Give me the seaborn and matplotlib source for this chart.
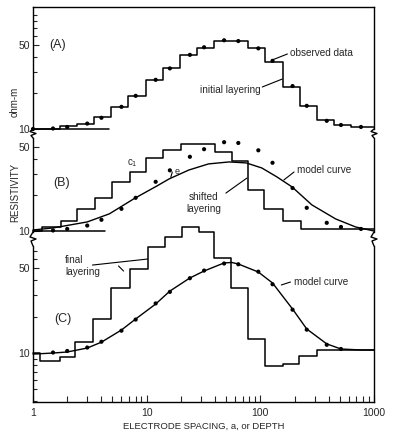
import seaborn as sns
import matplotlib.pyplot as plt
from matplotlib.lines import Line2D
from matplotlib.ticker import LogLocator, NullFormatter, NullLocator

# observed apparent resistivity (ohm-m) against electrode spacing a
spacing = [1, 1.5, 2, 3, 4, 6, 8, 12, 16, 24, 32, 48, 64, 96, 128, 192, 256, 384, 512, 768]
rho_obs = [10, 10.1, 10.4, 11.1, 12.4, 15.3, 18.9, 25.7, 32.0, 41.5, 48.0, 54.9,
           54.1, 47.0, 37.0, 22.8, 15.6, 11.7, 10.8, 10.4]

# (A) initial layering: layer bottoms (depth) and layer resistivity
init_depth = [1.73, 2.45, 3.46, 4.9, 6.9, 9.8, 13.9, 19.6, 27.7, 39.2, 78.4, 111, 157, 222, 314, 443, 627]
init_rho = [10, 10.5, 11.1, 12.5, 15.3, 18.9, 25.8, 32, 41.4, 47.5, 54.5, 47.2, 36.5, 22.6, 15.6, 11.8, 10.9, 10.4]
base_a = [1, 4.7]

# (B) shifted layering and its model curve
shift_depth = [1.2, 1.76, 2.44, 3.51, 4.95, 7.13, 9.86, 13.9, 20.0, 39.9, 56.3, 77.8, 108, 158, 228]
shift_rho = [10, 10.8, 12.1, 15.2, 18.8, 25.6, 31, 40.6, 47.3, 53.1, 45.5, 38.3, 22, 15.2, 12.1, 10.4]
base_b = [1, 4.3]
b_model_a = [1, 1.5, 3, 4.7, 7.9, 12.3, 15.7, 23.5, 35, 53, 75, 103, 140, 190, 284, 460, 690, 1000]
b_model_rho = [10.2, 10.6, 11.9, 13.9, 18.8, 23.7, 27.1, 32.2, 36.2, 37.6, 36.9, 33.5,
               28.2, 23.3, 16.5, 12.6, 10.8, 10]

# (C) final layering and its model curve
final_depth = [1.15, 1.73, 2.35, 3.4, 4.9, 7.07, 10.2, 14.4, 20.4, 28.8, 39.2, 55.4, 78.3, 111, 157, 217, 313]
final_rho = [10, 8.6, 9.3, 12.3, 19.1, 34.4, 49.4, 75.2, 91, 110, 100, 61, 34.4, 13.0, 7.8, 8.1, 9.4, 10.6]
c_model_a = [1, 1.5, 2, 3, 4, 6, 8, 12, 16, 24, 32, 48, 56, 64, 96, 128, 192, 256, 384, 512, 768, 1000]
c_model_rho = [9.8, 10.0, 10.2, 11.0, 12.3, 15.5, 19.1, 25.4, 32.5, 41.7, 47.6, 55.5, 56,
               54.4, 46.7, 37.9, 23.1, 15.8, 11.9, 10.8, 10.6, 10.6]

sns.set_style("white")
plt.rcParams['font.family'] = ['Liberation Sans', 'DejaVu Sans']

W, H = 395, 441
fig = plt.figure(figsize=(W / 100, H / 100), dpi=100)


def px_axes(top, bottom, ylim):
    # axes placed by pixel rows, x from 33 to 374 px
    ax = fig.add_axes([33 / W, 1 - bottom / H, 341 / W, (bottom - top) / H])
    ax.set_xscale('log')
    ax.set_yscale('log')
    ax.set_xlim(1, 1000)
    ax.set_ylim(*ylim)
    ax.patch.set_alpha(0)
    ax.set_yticks([10, 50], labels=['10', '50'])
    ax.yaxis.set_minor_locator(LogLocator(subs=range(2, 10)))
    ax.yaxis.set_minor_formatter(NullFormatter())
    ax.tick_params(axis='y', which='both', direction='in', left=True, right=False,
                   labelsize=7.5, pad=2, width=0.8)
    ax.tick_params(axis='y', which='major', length=4)
    ax.tick_params(axis='y', which='minor', length=3)
    for s in ax.spines.values():
        s.set_color('black')
        s.set_linewidth(1.0)
    return ax


def steps(ax, depth, rho):
    xs = [1] + list(depth) + [1000]
    ys = list(rho) + [rho[-1]]
    sns.lineplot(x=xs, y=ys, ax=ax, drawstyle='steps-post', estimator=None, sort=False,
                 color='black', lw=1.1, clip_on=False)


ax_a = px_axes(7, 129, (10, 104))
ax_b = px_axes(138, 232, (9.81, 59.5))
ax_c = px_axes(246, 402, (3.94, 76.6))

for ax in (ax_a, ax_b):
    ax.xaxis.set_major_locator(NullLocator())
    ax.xaxis.set_minor_locator(NullLocator())
    ax.spines['bottom'].set_visible(False)
ax_b.spines['top'].set_visible(False)
ax_c.spines['top'].set_visible(False)

ax_c.set_xticks([1, 10, 100, 1000], labels=['1', '10', '100', '1000'])
ax_c.xaxis.set_minor_locator(LogLocator(subs=range(2, 10)))
ax_c.xaxis.set_minor_formatter(NullFormatter())
ax_c.tick_params(axis='x', which='both', direction='in', bottom=True, labelsize=7.5, pad=4, width=0.8)
ax_c.tick_params(axis='x', which='major', length=5)
ax_c.tick_params(axis='x', which='minor', length=4)
ax_c.set_xlabel('ELECTRODE SPACING, a, or DEPTH', fontsize=6.8, labelpad=3)

# (A)
steps(ax_a, init_depth, init_rho)
sns.lineplot(x=base_a, y=[10, 10], ax=ax_a, color='black', lw=1.1, clip_on=False)
sns.scatterplot(x=spacing, y=rho_obs, ax=ax_a, color='black', s=9, edgecolor='none', clip_on=False)
ax_a.text(1.66, 50, '(A)', fontsize=9, ha='center', va='center')
ax_a.text(183, 43, 'observed data', fontsize=7.2, ha='left', va='center')
ax_a.plot([127, 173], [37.6, 42.2], color='black', lw=0.8)
ax_a.text(29.2, 21.1, 'initial layering', fontsize=7.2, ha='left', va='center')
ax_a.plot([104, 156], [22.4, 26.1], color='black', lw=0.8)

# (B)
steps(ax_b, shift_depth, shift_rho)
sns.lineplot(x=base_b, y=[10, 10], ax=ax_b, color='black', lw=1.1, clip_on=False)
sns.lineplot(x=b_model_a, y=b_model_rho, ax=ax_b, color='black', lw=1.0, estimator=None,
             sort=False, clip_on=False)
sns.scatterplot(x=spacing[1:], y=rho_obs[1:], ax=ax_b, color='black', s=9, edgecolor='none',
                clip_on=False)
ax_b.text(1.8, 25.1, '(B)', fontsize=9, ha='center', va='center')
ax_b.text(7.43, 36.9, 'c$_1$', fontsize=7, ha='center', va='center')
ax_b.annotate('', xy=(15.1, 28.2), xytext=(8.56, 30.4),
              arrowprops=dict(arrowstyle='-', lw=0.8, connectionstyle='arc3,rad=0.25'))
ax_b.plot([16.3, 16.8], [28.0, 31.0], color='black', lw=0.8)
ax_b.text(18.5, 31.0, 'e', fontsize=6.5, ha='center', va='center')
ax_b.text(210, 32.2, 'model curve', fontsize=7.2, ha='left', va='center')
ax_b.plot([161, 198], [26.6, 31.0], color='black', lw=0.8)
ax_b.text(31.9, 17.1, 'shifted\nlayering', fontsize=7.2, ha='center', va='center', linespacing=1.3)
ax_b.plot([49.8, 76.2], [20.7, 27.6], color='black', lw=0.8)

# (C)
steps(ax_c, final_depth, final_rho)
sns.lineplot(x=c_model_a, y=c_model_rho, ax=ax_c, color='black', lw=1.0, estimator=None,
             sort=False, clip_on=False)
sns.scatterplot(x=spacing[1:19], y=rho_obs[1:19], ax=ax_c, color='black', s=9, edgecolor='none',
                clip_on=False)
ax_c.text(1.84, 19.1, '(C)', fontsize=9, ha='center', va='center')
ax_c.text(1.92, 52.4, 'final\nlayering', fontsize=7.2, ha='left', va='center', linespacing=1.3)
ax_c.plot([3.33, 10.2], [53.3, 59.8], color='black', lw=0.8)
ax_c.plot([5.65, 6.26], [52.4, 47.6], color='black', lw=0.8)
ax_c.text(196, 38.6, 'model curve', fontsize=7.2, ha='left', va='center')
ax_c.plot([153, 184], [36.5, 38.6], color='black', lw=0.8)

for ax in (ax_a, ax_b, ax_c):
    ax.set_xlabel(ax.get_xlabel())
    ax.set_ylabel('')


# axis break marks between the panels
def zigzag(x, top, bottom):
    mid = (top + bottom) / 2
    xs = [x, x - 3, x + 3, x - 2, x]
    ys = [top, mid - 2, mid, mid + 2, bottom]
    fig.add_artist(Line2D([v / W for v in xs], [1 - v / H for v in ys], color='black', lw=1.0))


for x in (33, 374):
    zigzag(x, 129, 138)
    zigzag(x, 232, 246)

fig.text(15 / W, 1 - 102 / H, 'ohm-m', rotation=90, fontsize=7, ha='center', va='center')
fig.text(15 / W, 1 - 192 / H, 'RESISTIVITY', rotation=90, fontsize=7, ha='center', va='center')

fig.savefig('out.png', dpi=100)
